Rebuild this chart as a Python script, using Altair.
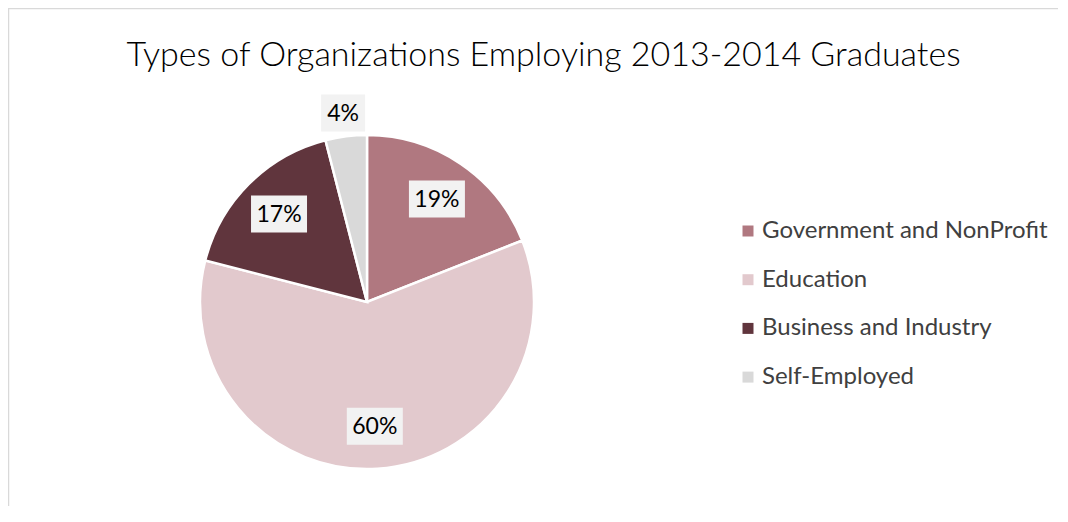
import altair as alt
import pandas as pd
import numpy as np

categories = ["Government and NonProfit", "Education", "Business and Industry", "Self-Employed"]
shares = [19, 60, 17, 4]
label_texts = ["19%", "60%", "17%", "4%"]
colors = ["#b07880", "#e2c9cd", "#60353d", "#d9d9d9"]
title_text = "Types of Organizations Employing 2013-2014 Graduates"

R_PX = 167
W, H = 1046, 494

df = pd.DataFrame({"category": categories, "share": shares, "label": label_texts,
                   "order": list(range(len(categories)))})
total = df["share"].sum()
start = df["share"].cumsum() - df["share"]
mid = (start + df["share"] / 2) / total * 2 * np.pi
rf = np.where(df["share"] < 5, 1.14, 0.745)
df["lx"] = rf * np.sin(mid)
df["ly"] = rf * np.cos(mid)
hw = (12 * df["label"].str.len() + 20) / 2 / R_PX
hh = 18.5 / R_PX
df["bx"] = df["lx"] - hw
df["bx2"] = df["lx"] + hw
df["by"] = df["ly"] - hh
df["by2"] = df["ly"] + hh

cx, cy = 355, 290
xs = alt.Scale(domain=[-1, 1], range=[cx - R_PX, cx + R_PX])
ys = alt.Scale(domain=[-1, 1], range=[cy + R_PX, cy - R_PX])

base = alt.Chart(df)

pie = base.mark_arc(radius=R_PX, stroke="white", strokeWidth=2.5).encode(
    x=alt.X(datum=0, type="quantitative", scale=xs, axis=None),
    y=alt.Y(datum=0, type="quantitative", scale=ys, axis=None),
    theta=alt.Theta("share:Q", stack=True),
    order=alt.Order("order:Q"),
    color=alt.Color("category:N", sort=categories,
                    scale=alt.Scale(domain=categories, range=colors),
                    legend=alt.Legend(orient="none", legendX=724, legendY=207, title=None,
                                      symbolType="square", symbolSize=121, symbolStrokeWidth=0,
                                      labelFont="Lato", labelFontSize=24, labelColor="#404040",
                                      rowPadding=24.7, labelOffset=2, labelLimit=400)),
)

boxes = base.mark_rect(color="#f2f2f2").encode(
    x=alt.X("bx:Q", scale=xs, axis=None), x2="bx2:Q",
    y=alt.Y("by:Q", scale=ys, axis=None), y2="by2:Q",
)

texts = base.mark_text(font="Lato", fontSize=23, color="#000000", baseline="middle", dy=1).encode(
    x=alt.X("lx:Q", scale=xs, axis=None),
    y=alt.Y("ly:Q", scale=ys, axis=None),
    text="label:N",
)

frame_df = pd.DataFrame({"k": [0]})
left_rule = alt.Chart(frame_df).mark_rule(color="#d9d9d9", strokeWidth=1.5).encode(
    x=alt.value(-3.5), y=alt.value(-3.5), y2=alt.value(H)
)
top_rule = alt.Chart(frame_df).mark_rule(color="#d9d9d9", strokeWidth=1.5).encode(
    x=alt.value(-4), x2=alt.value(W), y=alt.value(-3.5)
)

chart = alt.layer(left_rule, top_rule, pie, boxes, texts).properties(
    width=W, height=H,
    title=alt.Title(title_text, font="Lato", fontSize=34, fontWeight=300, color="#000000",
                    anchor="middle", frame="group", offset=0, dx=8.5, dy=92,
                    baseline="alphabetic"),
    autosize=alt.AutoSizeParams(type="none"),
    padding={"left": 4, "top": 4, "right": 0, "bottom": 0},
).configure_view(stroke=None)

chart.save("out.html", embed_options={"renderer": "svg", "actions": False})
